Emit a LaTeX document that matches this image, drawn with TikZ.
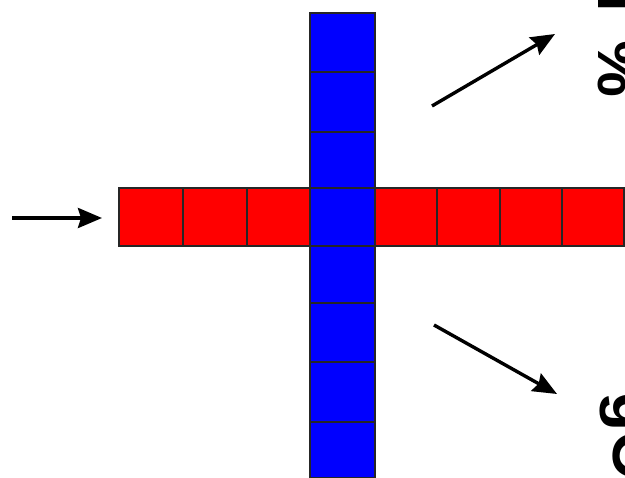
\documentclass[tikz,border=0pt]{standalone}
\usepackage{fontspec}
\setmainfont{Liberation Sans}
\usetikzlibrary{arrows.meta}
\definecolor{cellred}{RGB}{255,0,0}
\definecolor{cellblue}{RGB}{0,0,255}
\tikzset{
  cell/.style={draw=black!85, line width=1.8pt, inner sep=0pt, outer sep=0pt},
  redcell/.style={cell, fill=cellred, minimum height=58pt},
  bluecell/.style={cell, fill=cellblue, minimum width=65pt},
  arr/.style={line width=3.4pt, -{Stealth[length=24pt,width=20pt,inset=3pt]}},
  frag/.style={font=\bfseries\fontsize{64}{64}\selectfont, rotate=-90, inner sep=0pt}
}
\begin{document}
\begin{tikzpicture}[x=1pt,y=1pt]
\useasboundingbox (0,0) rectangle (625,-478);
\clip (0,0) rectangle (625,-478);
% blue column
\node[bluecell, minimum height=59pt] (b1) at (342.5,-42.5) {};
\node[bluecell, minimum height=60pt] (b2) at (342.5,-102) {};
\node[bluecell, minimum height=56pt] (b3) at (342.5,-160) {};
\node[bluecell, minimum height=57pt] (b4) at (342.5,-274.5) {};
\node[bluecell, minimum height=59pt] (b5) at (342.5,-332.5) {};
\node[bluecell, minimum height=60pt] (b6) at (342.5,-392) {};
\node[bluecell, minimum height=56pt] (b7) at (342.5,-450) {};
% red row
\node[redcell, minimum width=64pt] (r1) at (151,-217) {};
\node[redcell, minimum width=64pt] (r2) at (215,-217) {};
\node[redcell, minimum width=63pt] (r3) at (278.5,-217) {};
\node[redcell, minimum width=62pt] (r4) at (406,-217) {};
\node[redcell, minimum width=63pt] (r5) at (468.5,-217) {};
\node[redcell, minimum width=62pt] (r6) at (531,-217) {};
\node[redcell, minimum width=62pt] (r7) at (593,-217) {};
% centre
\node[bluecell, minimum height=58pt] (c) at (342.5,-217) {};
% arrows
\coordinate (inS) at (12,-218);
\coordinate (inE) at (102,-218);
\coordinate (upS) at (432,-106);
\coordinate (upE) at (555,-34);
\coordinate (dnS) at (434,-325);
\coordinate (dnE) at (557,-394);
\draw[arr] (inS) -- (inE);
\draw[arr] (upS) -- (upE);
\draw[arr] (dnS) -- (dnE);
% clipped text fragments at the right edge
\node[frag, anchor=south west] (t1) at (598,6) {i\hspace{0.45em}\%};
\node[frag, anchor=south west] (t2) at (600,-392) {gC};
\end{tikzpicture}
\end{document}
